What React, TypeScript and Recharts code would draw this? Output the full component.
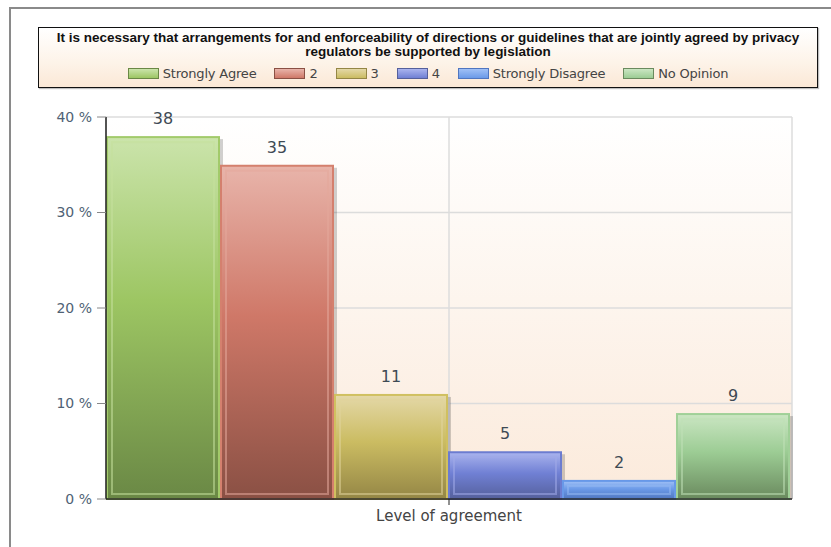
import React from "react";
import { BarChart, Bar, XAxis, YAxis, CartesianGrid, LabelList } from "recharts";

const titleLine1 =
  "It is necessary that arrangements for and enforceability of directions or guidelines that are jointly agreed by privacy";
const titleLine2 = "regulators be supported by legislation";
const categories = ["Level of agreement"];
const seriesNames = ["Strongly Agree", "2", "3", "4", "Strongly Disagree", "No Opinion"];
const seriesValues = [38, 35, 11, 5, 2, 9];
const yTicks = [0, 10, 20, 30, 40];

const palette = [
  { top: "#cbe4ab", mid: "#9dc663", bot: "#6a8845", border: "#a2ca6a", hi: "#c4e09c" },
  { top: "#e8b4aa", mid: "#cf7868", bot: "#8a5044", border: "#d4806e", hi: "#e4a89a" },
  { top: "#e4d8a8", mid: "#cbbc62", bot: "#948645", border: "#d0c060", hi: "#e0d49a" },
  { top: "#aab4ee", mid: "#7080d4", bot: "#55609c", border: "#6c7cd0", hi: "#a0aae8" },
  { top: "#a0c0f6", mid: "#6b9ae8", bot: "#5076c0", border: "#6898e8", hi: "#94b8f2" },
  { top: "#cbe6c3", mid: "#9ccc94", bot: "#6a8a5e", border: "#a0d098", hi: "#c0e0b6" },
];

const data = categories.map((c) => {
  const row: Record<string, any> = { name: c };
  seriesNames.forEach((s, i) => {
    row["s" + i] = seriesValues[i];
  });
  return row;
});

const FONT = "'DejaVu Sans', Verdana, sans-serif";

const makeShape = (i: number) => (p: any) => {
  const { x, y, width, height } = p;
  if (height <= 0) return <g />;
  const c = palette[i];
  const inset = 6;
  return (
    <g>
      <rect x={x + 3} y={y + 3} width={width} height={height - 3} fill="rgba(0,0,0,0.18)" />
      <rect x={x + 1} y={y + 1} width={width - 2} height={height - 1} fill={`url(#barGrad${i})`} stroke={c.border} strokeWidth={2} />
      {height > inset * 2 + 2 && (
        <rect
          x={x + inset}
          y={y + inset}
          width={width - inset * 2}
          height={height - inset * 2 + 1}
          fill="none"
          stroke={c.hi}
          strokeOpacity={0.55}
          strokeWidth={2}
        />
      )}
    </g>
  );
};

const TitleBox = () => (
  <div
    style={{
      position: "absolute",
      left: 38,
      top: 27,
      width: 780,
      height: 61,
      boxSizing: "border-box",
      border: "1px solid #111",
      background: "linear-gradient(to bottom, #ffffff 0%, #fdf3e8 60%, #fbe8d6 100%)",
      boxShadow: "1px 1px 1px rgba(0,0,0,0.25)",
      textAlign: "center",
      paddingTop: 3,
    }}
  >
    <div
      style={{
        fontFamily: "'Liberation Sans', Arial, sans-serif",
        fontWeight: "bold",
        fontSize: 13.5,
        lineHeight: "14px",
        letterSpacing: 0,
        color: "#111",
        whiteSpace: "nowrap",
      }}
    >
      <div>{titleLine1}</div>
      <div>{titleLine2}</div>
    </div>
    <div style={{ display: "flex", justifyContent: "center", alignItems: "center", marginTop: 7, gap: 18 }}>
      {seriesNames.map((s, i) => (
        <div key={s} style={{ display: "flex", alignItems: "center" }}>
          <div
            style={{
              width: 29,
              height: 9,
              border: `1px solid ${palette[i].bot}`,
              background: `linear-gradient(to bottom, ${palette[i].top}, ${palette[i].mid})`,
              marginRight: 4,
            }}
          />
          <span style={{ fontFamily: FONT, fontSize: 13, color: "#444", letterSpacing: -0.2 }}>{s}</span>
        </div>
      ))}
    </div>
  </div>
);

export default function App() {
  return (
    <div style={{ position: "absolute", left: 0, top: 0, width: 831, height: 547, overflow: "hidden", background: "#fff" }}>
      <div
        style={{
          position: "absolute",
          left: 9,
          top: 7,
          width: 900,
          height: 700,
          borderLeft: "2px solid #8a8a8a",
          borderTop: "2px solid #8a8a8a",
        }}
      />
      <TitleBox />
      <div style={{ position: "absolute", left: 0, top: 0 }}>
        <BarChart
          width={831}
          height={547}
          data={data}
          margin={{ top: 117, right: 39, bottom: 18, left: 46 }}
          barCategoryGap={0}
          barGap={0}
        >
          <defs>
            <linearGradient id="bgGrad" x1="0" y1="0" x2="0" y2="1">
              <stop offset="0%" stopColor="#ffffff" />
              <stop offset="100%" stopColor="#fbeadb" />
            </linearGradient>
            {palette.map((c, i) => (
              <linearGradient key={i} id={`barGrad${i}`} x1="0" y1="0" x2="0" y2="1">
                <stop offset="0%" stopColor={c.top} />
                <stop offset="45%" stopColor={c.mid} />
                <stop offset="100%" stopColor={c.bot} />
              </linearGradient>
            ))}
          </defs>
          <CartesianGrid fill="url(#bgGrad)" stroke="#dcdcdc" strokeWidth={1.5} />
          <XAxis
            dataKey="name"
            axisLine={{ stroke: "#222", strokeWidth: 1.5 }}
            tickLine={{ stroke: "#222" }}
            tickSize={6}
            height={30}
            tick={{ fill: "#444", fontSize: 15, fontFamily: FONT }}
            tickMargin={5}
          />
          <YAxis
            domain={[0, 40]}
            ticks={yTicks}
            width={60}
            axisLine={{ stroke: "#222", strokeWidth: 1.5 }}
            tickLine={{ stroke: "#888" }}
            tickSize={9}
            tickMargin={5}
            tickFormatter={(v: number) => `${v} %`}
            tick={{ fill: "#4f6275", fontSize: 14, fontFamily: FONT }}
          />
          {seriesNames.map((s, i) => (
            <Bar key={s} dataKey={"s" + i} name={s} isAnimationActive={false} shape={makeShape(i)}>
              <LabelList dataKey={"s" + i} position="top" offset={12} fill="#3e4a54" fontSize={16} fontFamily={FONT} />
            </Bar>
          ))}
        </BarChart>
      </div>
    </div>
  );
}
